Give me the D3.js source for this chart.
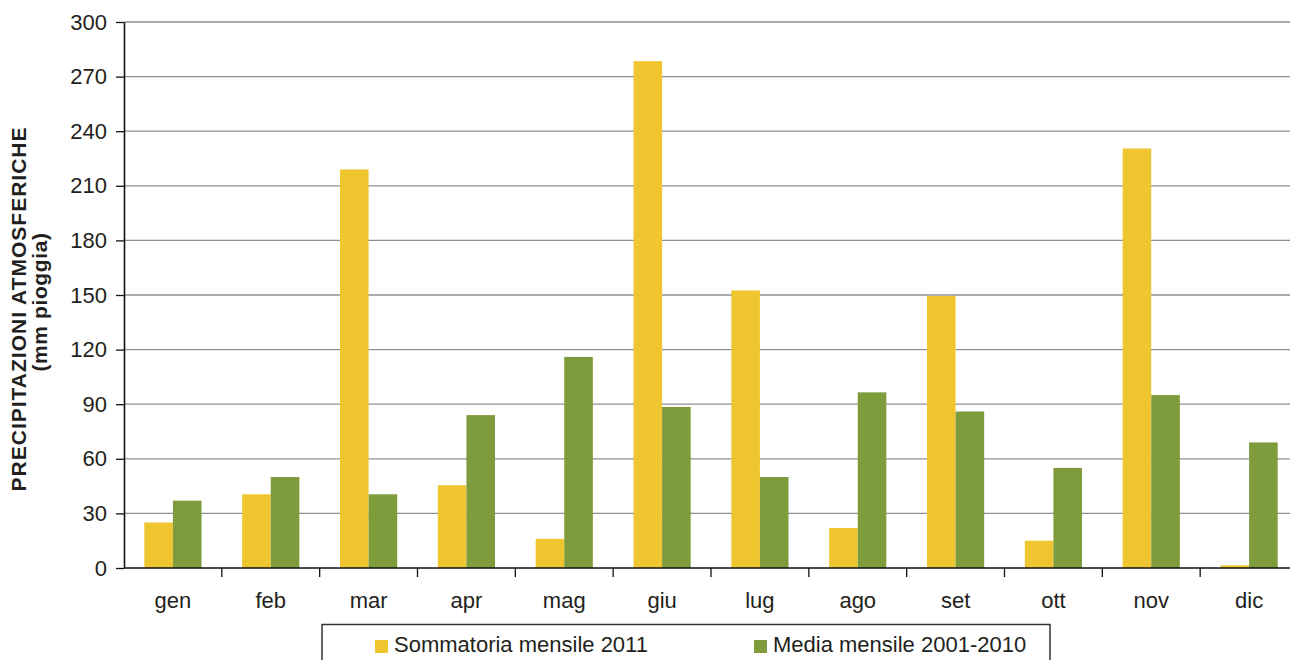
<!DOCTYPE html>
<html>
<head>
<meta charset="utf-8">
<script src="https://cdn.jsdelivr.net/npm/d3@7/dist/d3.min.js"></script>
<style>
  html, body { margin: 0; padding: 0; background: #fff; }
  svg { display: block; }
  text { font-family: "Liberation Sans", Arial, Helvetica, sans-serif; fill: #231f20; }
</style>
</head>
<body>
<svg id="chart" width="1290" height="660"></svg>
<script>
// Monthly rainfall (mm)
const months = ["gen", "feb", "mar", "apr", "mag", "giu", "lug", "ago", "set", "ott", "nov", "dic"];
const sum2011 = [25, 40.5, 219, 45.5, 16, 278.5, 152.5, 22, 149.5, 15, 230.5, 1.5];
const mean2001_2010 = [37, 50, 40.5, 84, 116, 88.5, 50, 96.5, 86, 55, 95, 69];
const yTicks = [0, 30, 60, 90, 120, 150, 180, 210, 240, 270, 300];
const seriesNames = ["Sommatoria mensile 2011", "Media mensile 2001-2010"];
const seriesColors = ["#f0c630", "#7e9c3c"];

const svg = d3.select("#chart");
const plot = { left: 124, right: 1298, top: 22, bottom: 568 };

const x = d3.scaleBand().domain(months).range([plot.left, plot.right]).paddingInner(0).paddingOuter(0);
const inner = d3.scaleBand().domain([0, 1]).range([0, x.bandwidth()]).paddingInner(0).paddingOuter(0.71);
const y = d3.scaleLinear().domain([0, 300]).range([plot.bottom, plot.top]);

// horizontal gridlines
svg.append("g")
  .selectAll("line")
  .data(yTicks.filter(d => d > 0))
  .join("line")
  .attr("x1", plot.left).attr("x2", 1290)
  .attr("y1", d => y(d)).attr("y2", d => y(d))
  .attr("stroke", "#8f8f8f").attr("stroke-width", 1.3);

// bars
const series = [sum2011, mean2001_2010];
series.forEach((vals, s) => {
  svg.append("g")
    .selectAll("rect")
    .data(months.map((m, i) => ({ m, v: vals[i] })))
    .join("rect")
    .attr("x", d => x(d.m) + inner(s))
    .attr("width", inner.bandwidth())
    .attr("y", d => y(d.v))
    .attr("height", d => y(0) - y(d.v))
    .attr("fill", seriesColors[s]);
});

// y axis
const yAxis = svg.append("g")
  .attr("transform", `translate(${plot.left},0)`)
  .call(d3.axisLeft(y).tickValues(yTicks).tickSize(8).tickPadding(9).tickSizeOuter(0));
yAxis.select(".domain").attr("stroke", "#111").attr("stroke-width", 1.6);
yAxis.selectAll(".tick line").attr("stroke", "#111").attr("stroke-width", 1.3);
yAxis.selectAll("text").style("font-size", "22px").style("font-family", "Liberation Sans, Arial, sans-serif").attr("fill", "#231f20");

// x axis: ticks sit between the month groups
const xAxisG = svg.append("g").attr("transform", `translate(0,${plot.bottom})`);
xAxisG.append("line").attr("x1", plot.left).attr("x2", 1290).attr("y1", 0).attr("y2", 0)
  .attr("stroke", "#111").attr("stroke-width", 1.6);
xAxisG.selectAll("line.tk")
  .data(months.slice(1))
  .join("line").attr("class", "tk")
  .attr("x1", d => x(d)).attr("x2", d => x(d))
  .attr("y1", 0).attr("y2", 9)
  .attr("stroke", "#111").attr("stroke-width", 1.3);
xAxisG.selectAll("text")
  .data(months)
  .join("text")
  .attr("x", d => x(d) + x.bandwidth() / 2)
  .attr("y", 40)
  .attr("text-anchor", "middle")
  .style("font-size", "22px")
  .text(d => d);

// y title
svg.append("text")
  .attr("transform", "translate(26,309) rotate(-90)")
  .attr("text-anchor", "middle")
  .style("font-size", "21px").style("font-weight", "bold").style("letter-spacing", "1px")
  .text("PRECIPITAZIONI ATMOSFERICHE");
svg.append("text")
  .attr("transform", "translate(47,302) rotate(-90)")
  .attr("text-anchor", "middle")
  .style("font-size", "21px").style("font-weight", "bold").style("letter-spacing", "0.6px")
  .text("(mm pioggia)");

// legend
const legend = svg.append("g");
legend.append("rect").attr("x", 322).attr("y", 624.5).attr("width", 728).attr("height", 50)
  .attr("fill", "#fff").attr("stroke", "#333").attr("stroke-width", 1.5);
const legendX = [375, 754];
seriesNames.forEach((name, i) => {
  legend.append("rect").attr("x", legendX[i]).attr("y", 640).attr("width", 13).attr("height", 13)
    .attr("fill", seriesColors[i]);
  legend.append("text").attr("x", legendX[i] + 19).attr("y", 652)
    .style("font-size", "22px").text(name);
});
</script>
</body>
</html>
